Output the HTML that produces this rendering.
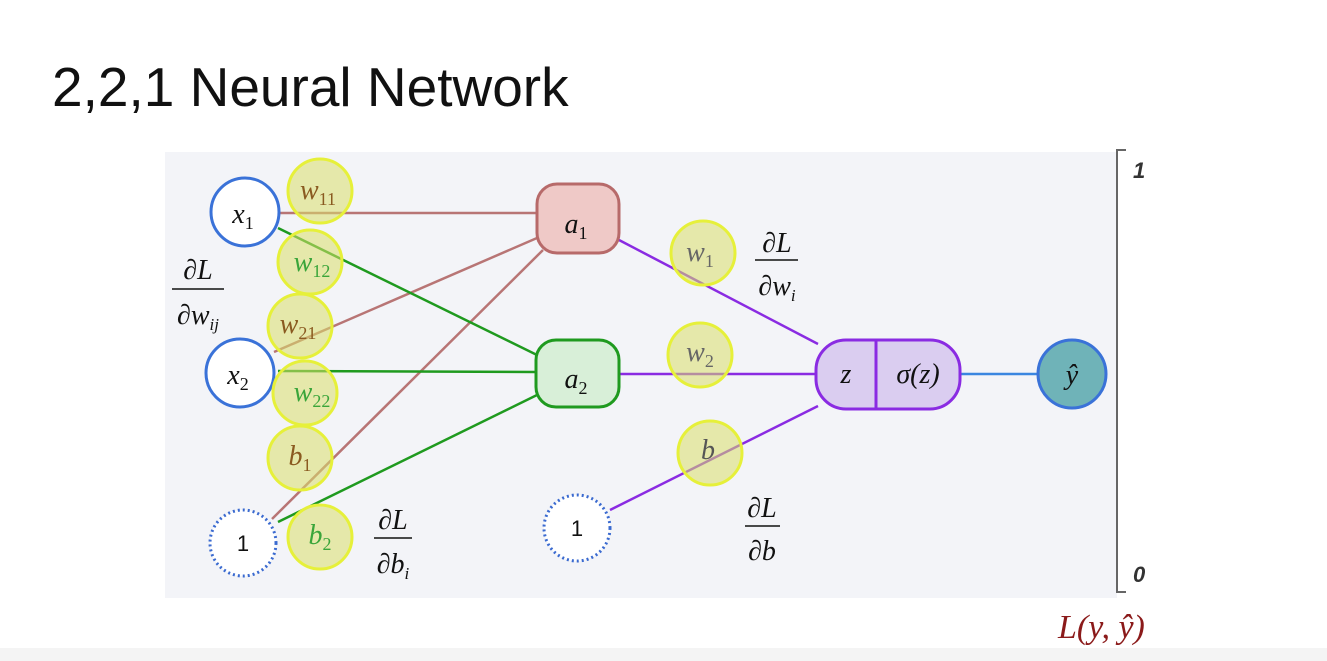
<!DOCTYPE html>
<html><head><meta charset="utf-8"><style>
body{margin:0;width:1327px;height:661px;background:#fff;overflow:hidden}
svg{display:block}
</style></head><body>
<svg width="1327" height="661" viewBox="0 0 1327 661" xmlns="http://www.w3.org/2000/svg">
<rect x="0" y="648" width="1327" height="13" fill="#f4f4f4"/>
<text x="52" y="106" font-family="Liberation Sans, sans-serif" font-size="55" fill="#111">2,2,1 Neural Network</text>
<rect x="165" y="152" width="952" height="446" fill="#f3f4f8"/>
<path d="M1126 150 H1117 V592 H1126" fill="none" stroke="#666" stroke-width="2"/>
<text x="1133" y="178" font-family="Liberation Sans, sans-serif" font-weight="bold" font-style="italic" font-size="22" fill="#333">1</text>
<text x="1133" y="582" font-family="Liberation Sans, sans-serif" font-weight="bold" font-style="italic" font-size="22" fill="#333">0</text>
<text x="1058" y="638" font-family="Liberation Serif, serif" font-style="italic" font-size="34" fill="#8b1a1a">L(y, ŷ)</text>
<g stroke-width="2.5" fill="none">
<line x1="279" y1="213" x2="537" y2="213" stroke="#b87575"/>
<line x1="274" y1="352" x2="537" y2="238" stroke="#b87575"/>
<line x1="272" y1="519" x2="543" y2="250" stroke="#b87575"/>
<line x1="278" y1="228" x2="537" y2="355" stroke="#1f9a1f"/>
<line x1="278" y1="371" x2="536" y2="372" stroke="#1f9a1f"/>
<line x1="278" y1="522" x2="537" y2="395" stroke="#1f9a1f"/>
<line x1="619" y1="240" x2="818" y2="344" stroke="#8a2be2"/>
<line x1="619" y1="374" x2="816" y2="374" stroke="#8a2be2"/>
<line x1="610" y1="510" x2="818" y2="406" stroke="#8a2be2"/>
<line x1="960" y1="374" x2="1038" y2="374" stroke="#3a86e0"/>
</g>
<circle cx="245" cy="212" r="34" fill="#fff" stroke="#3a72d8" stroke-width="3"/>
<circle cx="240" cy="373" r="34" fill="#fff" stroke="#3a72d8" stroke-width="3"/>
<circle cx="243" cy="543" r="33" fill="#fff" stroke="#3a6ad0" stroke-width="3" stroke-dasharray="2 3"/>
<circle cx="577" cy="528" r="33" fill="#fff" stroke="#3a6ad0" stroke-width="3" stroke-dasharray="2 3"/>
<rect x="537" y="184" width="82" height="69" rx="20" fill="#efc9c7" stroke="#b76a6a" stroke-width="3"/>
<rect x="536" y="340" width="83" height="67" rx="20" fill="#d8efd8" stroke="#1f9a1f" stroke-width="3"/>
<rect x="816" y="340" width="144" height="69" rx="30" fill="#dacdf0" stroke="#8a2be2" stroke-width="3"/>
<line x1="876" y1="340" x2="876" y2="409" stroke="#8a2be2" stroke-width="3"/>
<circle cx="1072" cy="374" r="34" fill="#6fb3b8" stroke="#3a72d8" stroke-width="3"/>
<g fill="#d9df6a" fill-opacity="0.55" stroke="#e6f03a" stroke-width="3">
<circle cx="320" cy="191" r="32"/><circle cx="310" cy="262" r="32"/><circle cx="300" cy="326" r="32"/>
<circle cx="305" cy="393" r="32"/><circle cx="300" cy="458" r="32"/><circle cx="320" cy="537" r="32"/>
<circle cx="703" cy="253" r="32"/><circle cx="700" cy="355" r="32"/><circle cx="710" cy="453" r="32"/>
</g>
<g font-family="Liberation Serif, serif" font-style="italic" font-size="28" text-anchor="middle">
<text x="243" y="223" fill="#111">x<tspan font-size="18" dy="6" font-style="normal">1</tspan></text>
<text x="238" y="384" fill="#111">x<tspan font-size="18" dy="6" font-style="normal">2</tspan></text>
<text x="576" y="233" fill="#111">a<tspan font-size="18" dy="6" font-style="normal">1</tspan></text>
<text x="576" y="388" fill="#111">a<tspan font-size="18" dy="6" font-style="normal">2</tspan></text>
<text x="846" y="383" fill="#111">z</text>
<text x="918" y="383" fill="#111">σ(z)</text>
<text x="1072" y="384" fill="#111">ŷ</text>
<text x="318" y="199" fill="#8a5a20">w<tspan font-size="18" dy="6" font-style="normal">11</tspan></text>
<text x="312" y="271" fill="#3aa53a">w<tspan font-size="18" dy="6" font-style="normal">12</tspan></text>
<text x="298" y="333" fill="#8a5a20">w<tspan font-size="18" dy="6" font-style="normal">21</tspan></text>
<text x="312" y="401" fill="#3aa53a">w<tspan font-size="18" dy="6" font-style="normal">22</tspan></text>
<text x="300" y="465" fill="#8a5a20">b<tspan font-size="18" dy="6" font-style="normal">1</tspan></text>
<text x="320" y="544" fill="#3aa53a">b<tspan font-size="18" dy="6" font-style="normal">2</tspan></text>
<text x="700" y="261" fill="#666">w<tspan font-size="18" dy="6" font-style="normal">1</tspan></text>
<text x="700" y="361" fill="#666">w<tspan font-size="18" dy="6" font-style="normal">2</tspan></text>
<text x="708" y="459" fill="#555">b</text>
<text x="198" y="279" fill="#111">∂L</text>
<text x="198" y="324" fill="#111">∂w<tspan font-size="17" dy="6">ij</tspan></text>
<text x="393" y="529" fill="#111">∂L</text>
<text x="393" y="573" fill="#111">∂b<tspan font-size="17" dy="6">i</tspan></text>
<text x="777" y="252" fill="#111">∂L</text>
<text x="777" y="295" fill="#111">∂w<tspan font-size="17" dy="6">i</tspan></text>
<text x="762" y="517" fill="#111">∂L</text>
<text x="762" y="560" fill="#111">∂b</text>
</g>
<g stroke="#111" stroke-width="1.5">
<line x1="172" y1="289" x2="224" y2="289"/>
<line x1="374" y1="538" x2="412" y2="538"/>
<line x1="755" y1="260" x2="798" y2="260"/>
<line x1="745" y1="526" x2="780" y2="526"/>
</g>
<g font-family="Liberation Sans, sans-serif" font-size="22" text-anchor="middle" fill="#111">
<text x="243" y="551">1</text><text x="577" y="536">1</text>
</g>
</svg>
</body></html>
